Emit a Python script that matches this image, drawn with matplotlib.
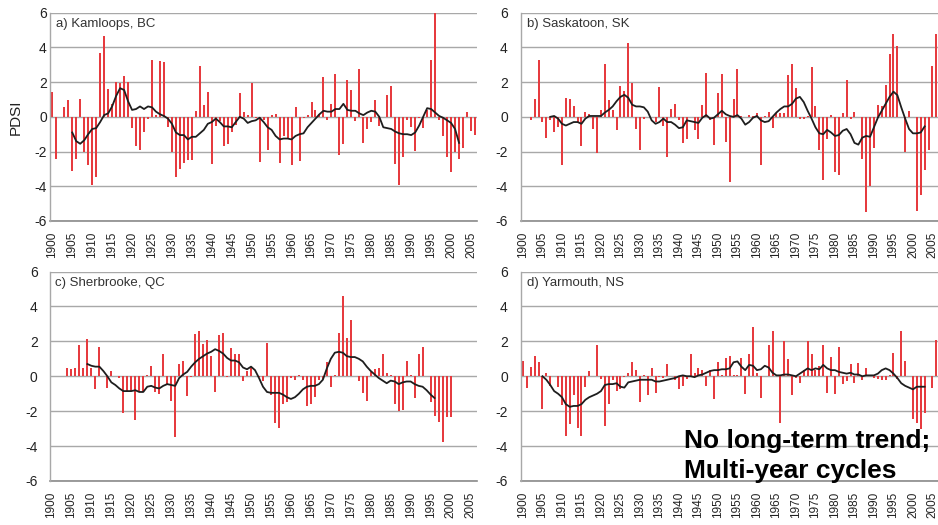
import numpy as np
import matplotlib
matplotlib.use("Agg")
import matplotlib.pyplot as plt

plt.rcParams["font.family"] = ["Liberation Sans", "DejaVu Sans"]
plt.rcParams["axes.unicode_minus"] = False

# ---- data: summer PDSI, one value per year 1900-2006 ----
years = np.arange(1900, 2007)

kamloops = [
    1.45, -2.4, 0.0, 0.55, 0.95, -3.1, -2.4, 1.05, -2.0, -2.75,      # 1900s
    -3.95, -3.45, 3.7, 4.65, 1.6, 0.75, 2.0, 1.95, 2.35, 2.0,        # 1910s
    -0.65, -1.7, -1.9, -0.9, -0.15, 3.25, 0.1, 3.2, 3.15, -0.6,      # 1920s
    -2.05, -3.45, -3.0, -2.65, -2.5, -2.5, 0.35, 2.95, 0.7, 1.45,    # 1930s
    -2.7, -0.55, -0.25, -1.7, -1.55, -0.9, -0.45, 1.4, 0.27, 0.13,   # 1940s
    1.95, -0.05, -2.6, -0.2, -1.9, 0.1, 0.17, -2.65, -1.1, -1.2,     # 1950s
    -2.75, 0.55, -2.55, -0.05, 0.1, 0.85, 0.4, 0.17, 2.3, -0.2,      # 1960s
    0.75, 2.45, -2.2, -1.55, 2.1, 1.55, -0.25, 2.75, -1.5, -0.7,     # 1970s
    -0.3, 0.95, -0.5, 0.0, 1.27, 1.77, -2.7, -3.9, -2.3, -0.17,      # 1980s
    -0.6, -1.95, -0.05, -0.65, 0.37, 3.3, 6.1, -0.2, -1.1, -2.3,     # 1990s
    -3.2, -2.0, -2.45, -1.8, 0.27, -0.8, -1.05,                      # 2000s
]
saskatoon = [
    0.0, 0.0, -0.2, 1.05, 3.25, -0.3, -1.2, -0.2, -0.9, -0.6,
    -2.75, 1.1, 1.0, 0.65, -0.3, -1.7, 0.3, 0.15, -0.7, -2.1,
    0.4, 3.05, 0.95, 0.4, -0.75, 1.75, 1.5, 4.25, 1.95, -0.7,
    -1.9, -0.15, 0.0, 0.0, -0.3, 1.7, -0.55, -2.3, 0.45, 0.75,
    -0.2, -1.5, -1.3, 0.0, -0.75, -1.3, 0.7, 2.55, -0.2, -1.6,
    1.4, 2.45, -1.45, -3.75, 1.05, 2.75, 0.05, 0.0, 0.1, 0.05,
    0.2, -2.8, 0.05, 0.3, -0.65, 0.2, 0.25, 0.2, 2.4, 3.05,
    1.65, -0.1, -0.15, 0.05, 2.85, 0.65, -1.9, -3.65, -1.3, 0.1,
    -3.2, -3.35, 0.25, 2.15, -0.1, 0.3, 0.0, -2.45, -5.5, -4.0,
    -1.8, 0.7, 0.65, 1.85, 3.6, 4.75, 4.1, 0.0, -2.05, 0.35,
    0.0, -5.45, -4.5, -3.05, -1.9, 2.95, 4.75,
]
sherbrooke = [
    0.0, 0.0, 0.0, 0.0, 0.45, 0.4, 0.45, 1.8, 0.45, 2.15,
    0.5, -0.75, 1.65, 0.0, -0.65, 0.3, 0.0, -0.1, -2.1, -0.85,
    -0.85, -2.5, -0.85, -0.9, 0.1, 0.6, -0.9, -1.0, 1.25, -0.5,
    -1.4, -3.5, 0.7, 0.9, -1.15, -0.05, 2.4, 2.6, 1.85, 2.1,
    1.15, -0.9, 2.35, 2.5, -0.05, 1.6, 1.3, 1.3, -0.3, 0.3,
    0.45, 0.0, -0.05, -0.3, 1.9, -1.1, -2.65, -2.95, -1.6, -1.45,
    -0.1, -0.2, 0.05, -0.2, -1.7, -1.6, -1.2, -0.2, -0.15, 0.8,
    -0.6, 0.05, 2.45, 4.6, 2.2, 3.25, 0.0, -0.25, -0.95, -1.4,
    0.25, 0.4, 0.5, 1.25, 0.2, 0.1, -1.6, -2.0, -1.95, 0.9,
    0.05, -1.25, 1.25, 1.7, 0.0, -1.45, -2.3, -2.6, -3.75, -2.35,
    -2.35, 0.0, 0.0, 0.0, 0.0, 0.0, 0.0,
]
yarmouth = [
    0.9, -0.65, 0.55, 1.15, 0.8, -1.85, 0.2, -0.55, 0.0, -0.6,
    -1.65, -3.45, -2.75, -1.1, -2.95, -3.4, -0.6, 0.3, 0.0, 1.8,
    -0.15, -2.85, -1.6, -0.2, -0.85, -0.75, -0.05, 0.2, 0.8, 0.35,
    -1.45, 0.05, -1.1, 0.5, -0.95, -0.05, -0.1, 0.7, 0.0, -0.2,
    -0.75, -0.55, -0.15, 1.25, 0.2, 0.45, 0.35, -0.55, 0.35, -1.3,
    0.8, 0.1, 1.05, 1.15, 0.1, 0.1, 1.05, -1.0, 1.3, 2.8,
    0.2, -1.25, 0.0, 1.8, 2.6, 0.0, -2.65, 2.0, 1.0, -1.05,
    -0.1, -0.4, 0.35, 2.0, 1.25, 0.35, 0.6, 1.8, -0.95, 1.1,
    -1.0, 1.7, -0.45, -0.3, 0.7, -0.4, 0.75, -0.2, 0.45, 0.0,
    -0.1, -0.15, -0.2, -0.2, 0.05, 1.35, -0.15, 2.6, 0.9, 0.0,
    -2.45, -2.65, -3.0, -2.1, 0.0, -0.65, 2.1,
]

# ---- smoothed curves (first year given separately) ----
kamloops_smooth_start = 1905
kamloops_smooth = [
    -0.9, -1.4, -1.55, -1.35, -1.0, -0.7, -0.65, -0.3, 0.1, 0.2,
    0.6, 1.2, 1.65, 1.55, 0.9, 0.4, 0.45, 0.6, 0.45, 0.6,
    0.55, 0.3, 0.15, 0.05, -0.1, -0.4, -0.9, -1.05, -1.05, -1.3,
    -1.15, -1.15, -0.95, -0.75, -0.4, -0.3, -0.1, -0.3, -0.55, -0.55,
    -0.6, -0.3, 0.0, -0.1, -0.35, -0.25, -0.2, -0.05, -0.3, -0.6,
    -0.75, -1.1, -1.3, -1.25, -1.25, -1.3, -1.1, -1.0, -0.95, -0.6,
    -0.35, -0.1, 0.15, 0.35, 0.3, 0.3, 0.45, 0.45, 0.75, 0.4,
    0.35, 0.35, 0.2, 0.1, 0.25, 0.35, 0.3, 0.0, -0.6, -0.65,
    -0.7, -0.85, -0.95, -1.0, -1.0, -1.05, -0.9, -0.5, 0.0, 0.5,
    0.45, 0.25, 0.05, -0.05, -0.2, -0.35, -0.7, -1.5,
]
saskatoon_smooth_start = 1907
saskatoon_smooth = [
    0.0, 0.05, -0.1, -0.4, -0.5, -0.4, -0.3, -0.3, -0.4, -0.1,
    0.05, 0.05, 0.05, 0.05, 0.25, 0.4, 0.6, 0.9, 1.15, 1.27,
    1.1, 0.7, 0.6, 0.6, 0.55, 0.3, -0.2, -0.4, -0.3, -0.1,
    -0.3, -0.3, -0.45, -0.65, -0.6, -0.2, -0.25, -0.3, -0.35, -0.05,
    0.1, -0.1, -0.05, 0.15, 0.35, 0.15, 0.05, 0.0, 0.1, -0.1,
    -0.45, -0.3, -0.05, 0.05, -0.2, -0.3, -0.25, 0.0, 0.25, 0.45,
    0.6, 0.6, 0.75, 1.05, 1.15, 0.85, 0.35, -0.1, -0.6, -0.95,
    -1.0, -0.75, -0.9, -1.1, -1.05, -0.8, -0.7, -1.0, -1.5, -1.6,
    -1.2, -1.1, -1.15, -0.6, -0.05, 0.35, 0.75, 1.15, 1.45, 1.25,
    0.55, -0.1, -0.7, -0.95, -0.95, -0.9, -0.55,
]
sherbrooke_smooth_start = 1909
sherbrooke_smooth = [
    0.7, 0.6, 0.55, 0.55, 0.3, 0.0, -0.35, -0.5, -0.7, -0.85,
    -0.85, -0.85, -0.8, -0.9, -0.9, -0.6, -0.55, -0.65, -0.7, -0.55,
    -0.45, -0.5, -0.55, -0.1, 0.1, 0.25, 0.55, 0.8, 1.0, 1.15,
    1.3, 1.4, 1.55, 1.45, 1.3, 1.05, 0.9, 0.9, 0.8, 0.5,
    0.4, 0.55, 0.35, -0.1, -0.6, -0.9, -0.95, -0.95, -0.95, -1.05,
    -1.2, -1.3, -1.2, -1.0, -0.75, -0.6, -0.55, -0.55, -0.45, -0.2,
    0.45, 1.0, 1.35, 1.4, 1.35, 1.15, 1.1, 1.1, 1.0, 0.85,
    0.55, 0.3, 0.1, -0.1, -0.25, -0.4, -0.25, -0.3, -0.45, -0.35,
    -0.3, -0.3, -0.45, -0.55, -0.6, -0.8, -1.05, -1.25,
]
yarmouth_smooth_start = 1905
yarmouth_smooth = [
    0.0, -0.2, -0.5, -0.85, -1.0, -1.2, -1.6, -1.75, -1.7, -1.7,
    -1.6, -1.35, -1.2, -1.1, -1.0, -0.85, -0.5, -0.45, -0.45, -0.4,
    -0.6, -0.65, -0.35, -0.3, -0.25, -0.2, -0.2, -0.2, -0.2, -0.3,
    -0.3, -0.25, -0.2, -0.15, -0.1, 0.0, 0.05, 0.0, 0.0, -0.05,
    0.05, 0.1, 0.2, 0.3, 0.35, 0.35, 0.4, 0.4, 0.45, 0.8,
    0.85, 0.55, 0.35, 0.65, 0.6, 0.35, 0.4, 0.6, 0.5, 0.2,
    0.05, 0.05, 0.1, 0.1, 0.05, 0.0, 0.15, 0.3, 0.45, 0.35,
    0.45, 0.4, 0.65, 0.45, 0.35, 0.35, 0.25, 0.2, 0.15, 0.2,
    0.1, 0.1, 0.0, 0.05, 0.05, 0.05, 0.15, 0.35, 0.45, 0.35,
    0.15, -0.1, -0.4, -0.55, -0.65, -0.75, -0.6, -0.6, -0.6,
]

titles = ["a) Kamloops, BC", "b) Saskatoon, SK", "c) Sherbrooke, QC", "d) Yarmouth, NS"]
bars = [kamloops, saskatoon, sherbrooke, yarmouth]
smooths = [(kamloops_smooth_start, kamloops_smooth),
           (saskatoon_smooth_start, saskatoon_smooth),
           (sherbrooke_smooth_start, sherbrooke_smooth),
           (yarmouth_smooth_start, yarmouth_smooth)]

# panel boxes in pixels: left, top, right, bottom  (plot area of each chart)
W, H = 938, 525
boxes = [(50.3, 12.7, 477.0, 221.0),
         (521.0, 12.7, 938.3, 221.0),
         (49.5, 271.5, 476.5, 481.0),
         (521.0, 271.5, 938.3, 481.0)]
ylab_pad = [2.5, 9.5, 8.5, 9.5]

BAR_RED = "#e63b3f"
GRID = "#a8a8a8"

fig = plt.figure(figsize=(W / 100, H / 100), dpi=100)

for i in range(4):
    l, t, r, b = boxes[i]
    ax = fig.add_axes([l / W, 1 - b / H, (r - l) / W, (b - t) / H])

    ax.bar(years, bars[i], width=0.5, color=BAR_RED, linewidth=0, zorder=2)
    start, vals = smooths[i]
    sx = np.arange(start, start + len(vals))
    ax.plot(sx, vals, color="#1e1e1e", lw=1.3, zorder=3)

    ax.set_xlim(1899.5, 2006.5)
    ax.set_ylim(-6, 6)
    ax.set_yticks(np.arange(-6, 7, 2))
    ax.set_xticks(np.arange(1900, 2006, 5))
    ax.set_xticklabels([str(y) for y in range(1900, 2006, 5)], rotation=90)

    ax.yaxis.grid(True, color=GRID, lw=1.0, zorder=0)
    ax.set_axisbelow(True)
    for s in ["top", "right", "bottom"]:
        ax.spines[s].set_visible(False)
    ax.spines["left"].set_color(GRID)
    ax.spines["left"].set_linewidth(1.0)
    ax.axhline(-6, color="#8a8a8a", lw=1.2, clip_on=False, zorder=1)

    ax.tick_params(axis="x", length=0, pad=7.5, labelsize=8.5, colors="#222222")
    ax.tick_params(axis="y", length=0, pad=ylab_pad[i], labelsize=10, colors="#222222")

    ax.text(0.014, 0.945, titles[i], transform=ax.transAxes, fontsize=9.5,
            color="#333333", va="center", ha="left")

fig.text(16 / W, 1 - 117 / H, "PDSI", rotation=90, fontsize=11,
         ha="center", va="center", color="#222222")

fig.text(684 / W, 1 - 448 / H, "No long-term trend;", fontsize=19,
         fontweight="bold", ha="left", va="baseline", color="black")
fig.text(684 / W, 1 - 478 / H, "Multi-year cycles", fontsize=19,
         fontweight="bold", ha="left", va="baseline", color="black")

fig.savefig("out.png", dpi=100)
